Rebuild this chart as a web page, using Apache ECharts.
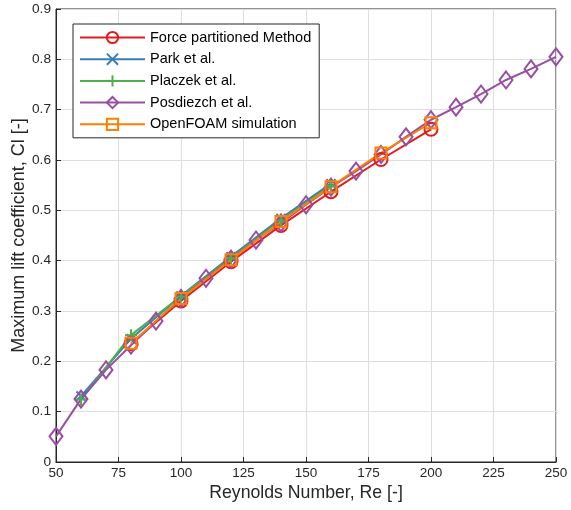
<!DOCTYPE html>
<html><head><meta charset="utf-8">
<script src="https://cdn.jsdelivr.net/npm/echarts@6/dist/echarts.min.js"></script>
<style>html,body{margin:0;padding:0;background:#fff}#c{width:571px;height:510px}</style>
</head><body><div id="c"></div>
<script>
const xTicks = [50,75,100,125,150,175,200,225,250];
const yTicks = [0,0.1,0.2,0.3,0.4,0.5,0.6,0.7,0.8,0.9];

const forceRe = [80,100,120,140,160,180,200];
const forceCl = [0.235,0.320,0.398,0.470,0.537,0.601,0.661];

const parkRe = [60,80,100,120,140,160];
const parkCl = [0.131,0.245,0.330,0.408,0.484,0.553];

const placzekRe = [60,80,100,120,140,160];
const placzekCl = [0.124,0.252,0.329,0.405,0.480,0.549];

const posRe = [50,60,70,80,90,100,110,120,130,140,150,160,170,180,190,200,210,220,230,240,250];
const posCl = [0.051,0.125,0.183,0.232,0.280,0.325,0.365,0.403,0.441,0.475,0.511,0.546,0.578,0.611,0.646,0.680,0.705,0.731,0.759,0.781,0.805];

const foamRe = [80,100,120,140,160,180,200];
const foamCl = [0.236,0.325,0.402,0.478,0.547,0.614,0.674];

const names = ['Force partitioned Method','Park et al.','Placzek et al.','Posdiezch et al.','OpenFOAM simulation'];
const colors = ['#E41A1C','#377EB8','#4DAF4A','#984EA3','#FF7F00'];

const crossPath = 'path://M0,0L10,10M10,0L0,10';
const plusPath = 'path://M5,0L5,10M0,5L10,5';

function pairs(xs, ys){ return xs.map((x,i)=>[x, ys[i]]); }

const font = 'Liberation Sans, Arial, sans-serif';
const dark = '#262626';

function mk(i, xs, ys, symbol, size){
  return {
    name: names[i], type: 'line', data: pairs(xs, ys),
    symbol: symbol, symbolSize: size, showAllSymbol: true, clip: false,
    lineStyle: {color: colors[i], width: 2},
    itemStyle: {color: 'rgba(0,0,0,0)', borderColor: colors[i], borderWidth: 2},
    emphasis: {disabled: true}, animation: false
  };
}

const chart = echarts.init(document.getElementById('c'), null, {renderer: 'canvas'});
chart.setOption({
  animation: false,
  backgroundColor: '#fff',
  textStyle: {fontFamily: font},
  grid: {left: 56, right: 15, top: 9, bottom: 48, containLabel: false, outerBoundsMode: 'none',
    show: true, borderColor: dark, borderWidth: 1, backgroundColor: 'transparent'},
  legend: {
    orient: 'vertical', left: 73, top: 24,
    padding: [6, 8, 6, 6], itemGap: 6.7, itemWidth: 65, itemHeight: 14,
    backgroundColor: '#fff', borderColor: dark, borderWidth: 1,
    textStyle: {fontFamily: font, fontSize: 14.5, lineHeight: 14, color: '#000'},
    data: names
  },
  xAxis: {
    type: 'value', min: 50, max: 250, interval: 25,
    name: 'Reynolds Number, Re [-]', nameLocation: 'middle', nameGap: 22, nameMoveOverlap: false,
    nameTextStyle: {fontFamily: font, fontSize: 17.7, color: dark, verticalAlign: 'top'},
    axisLine: {show: true, onZero: false, lineStyle: {color: dark, width: 1}},
    axisTick: {show: true, inside: true, length: 5, lineStyle: {color: dark}},
    axisLabel: {fontFamily: font, fontSize: 13.5, color: dark, margin: 4,
      formatter: v => xTicks.includes(v) ? String(v) : ''},
    splitLine: {show: true, lineStyle: {color: '#dedede', width: 1}}
  },
  yAxis: {
    type: 'value', min: 0, max: 0.9, interval: 0.1,
    name: 'Maximum lift coefficient, Cl [-]', nameLocation: 'middle', nameGap: 28, nameMoveOverlap: false,
    nameTextStyle: {fontFamily: font, fontSize: 18, color: dark},
    axisLine: {show: true, onZero: false, lineStyle: {color: dark, width: 1}},
    axisTick: {show: true, inside: true, length: 5, lineStyle: {color: dark}},
    axisLabel: {fontFamily: font, fontSize: 13.7, color: dark, margin: 5,
      formatter: v => { const r = Math.round(v*10)/10; return yTicks.includes(r) ? String(r) : ''; }},
    splitLine: {show: true, lineStyle: {color: '#dedede', width: 1}}
  },
  series: [
    mk(0, forceRe, forceCl, 'circle', 13),
    mk(1, parkRe, parkCl, crossPath, 9),
    mk(2, placzekRe, placzekCl, plusPath, 12),
    mk(3, posRe, posCl, 'diamond', [13, 17]),
    mk(4, foamRe, foamCl, 'rect', 11)
  ]
});
</script></body></html>
